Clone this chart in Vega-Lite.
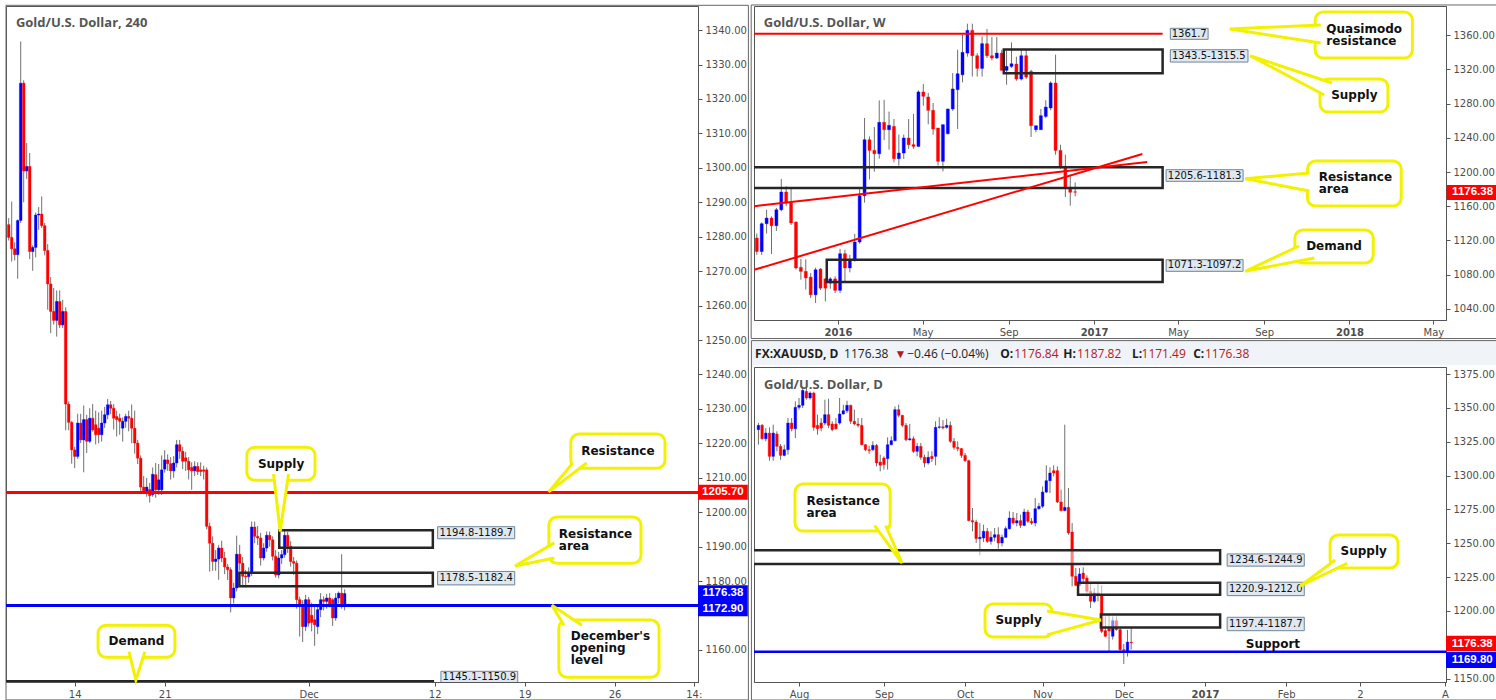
{
"$schema": "https://vega.github.io/schema/vega-lite/v6.json",
"padding": {"left": 4, "top": 3, "right": 0, "bottom": 0},
"autosize": {"type": "pad"},
"background": "white",
"bounds": "flush",
"spacing": 56,
"config": {
  "view": {"stroke": "#555555", "strokeWidth": 1},
  "scale": {"continuousPadding": 0},
  "axis": {"grid": false, "domainColor": "#555555", "tickColor": "#555555", "labelColor": "#4d4d4d", "labelFont": "DejaVu Sans", "labelFontSize": 10, "tickSize": 4, "labelPadding": 3, "labelFlush": false, "labelOverlap": false},
  "text": {"font": "DejaVu Sans"}
},
"datasets": {
"h4": [
{"i":-22,"o":1283.5,"h":1285.4,"l":1278.9,"c":1279.8},
{"i":-21,"o":1279.8,"h":1290.2,"l":1272.8,"c":1276.5},
{"i":-20,"o":1276.5,"h":1278.4,"l":1273.1,"c":1274.8},
{"i":-19,"o":1274.8,"h":1285,"l":1267.8,"c":1284.7},
{"i":-18,"o":1284.7,"h":1336.7,"l":1284,"c":1324.6},
{"i":-17,"o":1324.6,"h":1325.4,"l":1290,"c":1299.1},
{"i":-16,"o":1299.1,"h":1307.2,"l":1296.8,"c":1300.4},
{"i":-15,"o":1300.4,"h":1304.3,"l":1273.5,"c":1275.7},
{"i":-14,"o":1275.7,"h":1277.5,"l":1270.1,"c":1276.9},
{"i":-13,"o":1276.9,"h":1287,"l":1274,"c":1286.3},
{"i":-12,"o":1286.3,"h":1288.6,"l":1282,"c":1286.6},
{"i":-11,"o":1286.6,"h":1291.7,"l":1282.5,"c":1283.2},
{"i":-10,"o":1283.2,"h":1284,"l":1274.6,"c":1276},
{"i":-9,"o":1276,"h":1277.9,"l":1258.8,"c":1266.3},
{"i":-8,"o":1266.3,"h":1268.3,"l":1252,"c":1258.3},
{"i":-7,"o":1258.3,"h":1265.1,"l":1254.5,"c":1255.7},
{"i":-6,"o":1255.7,"h":1264.4,"l":1251,"c":1261.2},
{"i":-5,"o":1261.2,"h":1264.4,"l":1253.5,"c":1254.4},
{"i":-4,"o":1254.4,"h":1261.7,"l":1253.5,"c":1258.3},
{"i":-3,"o":1258.3,"h":1259.5,"l":1223.8,"c":1231.4},
{"i":-2,"o":1231.4,"h":1232.2,"l":1223.8,"c":1226.1},
{"i":-1,"o":1226.1,"h":1226.5,"l":1214.1,"c":1218.1},
{"i":0,"o":1218.1,"h":1219,"l":1212.8,"c":1216.2},
{"i":1,"o":1216.2,"h":1228.6,"l":1215.5,"c":1225.9},
{"i":2,"o":1225.9,"h":1228.6,"l":1220.1,"c":1221},
{"i":3,"o":1221,"h":1231,"l":1211.6,"c":1226.9},
{"i":4,"o":1226.9,"h":1228.3,"l":1217.2,"c":1220.6},
{"i":5,"o":1220.6,"h":1230.2,"l":1220.1,"c":1227.3},
{"i":6,"o":1227.3,"h":1231.4,"l":1223.4,"c":1223.9},
{"i":7,"o":1225.4,"h":1229.5,"l":1219.7,"c":1222.5},
{"i":8,"o":1224.4,"h":1229,"l":1220,"c":1222.5},
{"i":9,"o":1222.5,"h":1229.5,"l":1220.5,"c":1225.9},
{"i":10,"o":1225.9,"h":1230.6,"l":1224.5,"c":1228.3},
{"i":11,"o":1228.3,"h":1232.9,"l":1227,"c":1231.2},
{"i":12,"o":1231.2,"h":1232.3,"l":1228.5,"c":1230.2},
{"i":13,"o":1230.2,"h":1231.4,"l":1224,"c":1227.3},
{"i":14,"o":1227.8,"h":1229.5,"l":1222,"c":1226.9},
{"i":15,"o":1227.3,"h":1228.6,"l":1222.5,"c":1226.4},
{"i":16,"o":1224.4,"h":1227.5,"l":1220.5,"c":1226.4},
{"i":17,"o":1226.4,"h":1228.6,"l":1224.5,"c":1227.8},
{"i":18,"o":1227.8,"h":1229.5,"l":1223.5,"c":1227.3},
{"i":19,"o":1227.3,"h":1231.3,"l":1220,"c":1224.4},
{"i":20,"o":1224.4,"h":1229.5,"l":1217,"c":1220.1},
{"i":21,"o":1220.1,"h":1221,"l":1214,"c":1215.7},
{"i":22,"o":1215.7,"h":1216.5,"l":1206,"c":1207.3},
{"i":23,"o":1207.3,"h":1210.5,"l":1205.5,"c":1206.2},
{"i":24,"o":1206,"h":1210,"l":1204.5,"c":1207.3},
{"i":25,"o":1206.6,"h":1208.5,"l":1202.8,"c":1204.8},
{"i":26,"o":1205.1,"h":1213,"l":1204.5,"c":1211},
{"i":27,"o":1210.9,"h":1214.3,"l":1204.2,"c":1206.5},
{"i":28,"o":1206.5,"h":1214,"l":1205,"c":1209.4},
{"i":29,"o":1206.5,"h":1216.5,"l":1205,"c":1212.3},
{"i":30,"o":1212.5,"h":1218,"l":1211.5,"c":1215.2},
{"i":31,"o":1215.2,"h":1216.8,"l":1212,"c":1214.1},
{"i":32,"o":1214.1,"h":1216,"l":1209.5,"c":1212},
{"i":33,"o":1212,"h":1216.3,"l":1210,"c":1214.3},
{"i":34,"o":1214.3,"h":1221,"l":1213,"c":1219.6},
{"i":35,"o":1219.6,"h":1221,"l":1215.5,"c":1217.7},
{"i":36,"o":1217.7,"h":1219,"l":1212.5,"c":1214.8},
{"i":37,"o":1215.8,"h":1217.5,"l":1212,"c":1214.8},
{"i":38,"o":1214.8,"h":1216,"l":1209.5,"c":1212.3},
{"i":39,"o":1213,"h":1214.5,"l":1206.5,"c":1212},
{"i":40,"o":1212,"h":1214.8,"l":1210.5,"c":1213.3},
{"i":41,"o":1213.3,"h":1214.5,"l":1210.8,"c":1211.8},
{"i":42,"o":1212.3,"h":1214.5,"l":1210.5,"c":1211.8},
{"i":43,"o":1212.3,"h":1213.5,"l":1209.5,"c":1211.9},
{"i":44,"o":1212.3,"h":1213,"l":1195,"c":1195.9},
{"i":45,"o":1195.9,"h":1197,"l":1182.8,"c":1191},
{"i":46,"o":1191,"h":1193,"l":1183,"c":1185.7},
{"i":47,"o":1185.7,"h":1189,"l":1183,"c":1186.4},
{"i":48,"o":1186.4,"h":1190.5,"l":1180.4,"c":1189.6},
{"i":49,"o":1189.6,"h":1191.7,"l":1185.5,"c":1186.7},
{"i":50,"o":1186.7,"h":1188.5,"l":1182,"c":1184.1},
{"i":51,"o":1184.1,"h":1185,"l":1180.3,"c":1183.3},
{"i":52,"o":1183.3,"h":1184,"l":1170.9,"c":1175.1},
{"i":53,"o":1175.1,"h":1179.5,"l":1173.5,"c":1178},
{"i":54,"o":1178,"h":1193.2,"l":1177,"c":1187.8},
{"i":55,"o":1187.8,"h":1190.5,"l":1183,"c":1185.2},
{"i":56,"o":1185.2,"h":1187,"l":1178.2,"c":1181.4},
{"i":57,"o":1181.4,"h":1183.2,"l":1178.2,"c":1181.2},
{"i":58,"o":1181.3,"h":1184,"l":1179.5,"c":1182.3},
{"i":59,"o":1182.3,"h":1197.3,"l":1181.5,"c":1195.7},
{"i":60,"o":1195.7,"h":1197.3,"l":1191,"c":1193},
{"i":61,"o":1193,"h":1196,"l":1190.5,"c":1192.5},
{"i":62,"o":1192.5,"h":1194,"l":1184.5,"c":1186.7},
{"i":63,"o":1186.7,"h":1191,"l":1186,"c":1189.6},
{"i":64,"o":1189.6,"h":1194.4,"l":1188.5,"c":1193.3},
{"i":65,"o":1193.3,"h":1194.4,"l":1190,"c":1192},
{"i":66,"o":1192,"h":1193,"l":1186,"c":1187.2},
{"i":67,"o":1187.2,"h":1189,"l":1181,"c":1181.8},
{"i":68,"o":1181.8,"h":1188.5,"l":1180.8,"c":1186.7},
{"i":69,"o":1186.7,"h":1189,"l":1185,"c":1187.7},
{"i":70,"o":1187.7,"h":1195,"l":1186.8,"c":1193.3},
{"i":71,"o":1193.3,"h":1194.3,"l":1188.2,"c":1190.1},
{"i":72,"o":1190.1,"h":1191.6,"l":1184.2,"c":1185.7},
{"i":73,"o":1185.7,"h":1187,"l":1181.8,"c":1185.2},
{"i":74,"o":1185.2,"h":1186,"l":1172,"c":1174.6},
{"i":75,"o":1174.6,"h":1175.5,"l":1163.9,"c":1173.1},
{"i":76,"o":1173.1,"h":1174.5,"l":1162.3,"c":1166.8},
{"i":77,"o":1166.8,"h":1176,"l":1165.5,"c":1174.6},
{"i":78,"o":1174.6,"h":1175.4,"l":1166.8,"c":1167.8},
{"i":79,"o":1170.1,"h":1173.7,"l":1165.4,"c":1168},
{"i":80,"o":1168.8,"h":1172.6,"l":1161.2,"c":1167.3},
{"i":81,"o":1166.8,"h":1172.5,"l":1164.6,"c":1171.7},
{"i":82,"o":1171.7,"h":1176.5,"l":1169.5,"c":1174.6},
{"i":83,"o":1174.6,"h":1175.6,"l":1171.5,"c":1174.1},
{"i":84,"o":1174.1,"h":1176.3,"l":1172,"c":1175.1},
{"i":85,"o":1175.1,"h":1176.5,"l":1172.4,"c":1173.1},
{"i":86,"o":1174.6,"h":1175,"l":1167,"c":1169.3},
{"i":87,"o":1169.3,"h":1176.5,"l":1168.5,"c":1175.1},
{"i":88,"o":1175.1,"h":1177,"l":1173.5,"c":1176.5},
{"i":89,"o":1176.5,"h":1187.8,"l":1172,"c":1172.6},
{"i":90,"o":1172.6,"h":1177.6,"l":1171.5,"c":1176.38}
],
"wk": [
{"d":"2015-09-07","o":1122.7,"h":1128,"l":1103,"c":1107},
{"d":"2015-09-14","o":1107,"h":1141,"l":1103,"c":1139.5},
{"d":"2015-09-21","o":1139.5,"h":1155.8,"l":1128,"c":1146.1},
{"d":"2015-09-28","o":1146.1,"h":1148,"l":1104,"c":1137.2},
{"d":"2015-10-05","o":1137.2,"h":1158,"l":1131,"c":1155.8},
{"d":"2015-10-12","o":1155.8,"h":1191.8,"l":1154,"c":1176.6},
{"d":"2015-10-19","o":1176.6,"h":1183.2,"l":1160,"c":1163.7},
{"d":"2015-10-26","o":1163.7,"h":1182.4,"l":1138,"c":1140.3},
{"d":"2015-11-02","o":1141.4,"h":1142.2,"l":1085.8,"c":1087.7},
{"d":"2015-11-09","o":1088.4,"h":1098.2,"l":1074,"c":1083.7},
{"d":"2015-11-16","o":1083.7,"h":1097.8,"l":1062.4,"c":1076},
{"d":"2015-11-23","o":1077,"h":1081.7,"l":1052.4,"c":1056.3},
{"d":"2015-11-30","o":1056.3,"h":1088,"l":1046.7,"c":1085.6},
{"d":"2015-12-07","o":1086.4,"h":1087.6,"l":1062,"c":1064.1},
{"d":"2015-12-14","o":1074.9,"h":1076,"l":1048.6,"c":1064.1},
{"d":"2015-12-21","o":1070,"h":1077,"l":1063.4,"c":1074.9},
{"d":"2015-12-28","o":1074.9,"h":1078,"l":1058.4,"c":1061.5},
{"d":"2016-01-04","o":1061.5,"h":1110,"l":1058.4,"c":1104.4},
{"d":"2016-01-11","o":1104.4,"h":1109,"l":1072,"c":1087.7},
{"d":"2016-01-18","o":1087.7,"h":1103,"l":1082.6,"c":1097.4},
{"d":"2016-01-25","o":1097.4,"h":1127.6,"l":1095,"c":1118.1},
{"d":"2016-02-01","o":1118.1,"h":1181,"l":1116,"c":1172.3},
{"d":"2016-02-08","o":1172.3,"h":1263.2,"l":1164.1,"c":1237.8},
{"d":"2016-02-15","o":1237.8,"h":1241.7,"l":1191.3,"c":1225.3},
{"d":"2016-02-22","o":1225.3,"h":1252.6,"l":1200.4,"c":1221.4},
{"d":"2016-02-29","o":1221.4,"h":1283.8,"l":1215.6,"c":1258.1},
{"d":"2016-03-07","o":1258.1,"h":1284.5,"l":1237.3,"c":1249.5},
{"d":"2016-03-14","o":1249.5,"h":1270.7,"l":1226.1,"c":1254.6},
{"d":"2016-03-21","o":1253.4,"h":1262,"l":1211.3,"c":1215.6},
{"d":"2016-03-28","o":1215.6,"h":1243.8,"l":1207.5,"c":1222.2},
{"d":"2016-04-04","o":1222.2,"h":1243.8,"l":1215.2,"c":1239.8},
{"d":"2016-04-11","o":1239.8,"h":1262,"l":1227.2,"c":1232},
{"d":"2016-04-18","o":1232,"h":1268,"l":1227.2,"c":1230},
{"d":"2016-04-25","o":1230,"h":1295.7,"l":1229.2,"c":1293.7},
{"d":"2016-05-02","o":1293.7,"h":1302.9,"l":1277.5,"c":1288.6},
{"d":"2016-05-09","o":1287.8,"h":1292.5,"l":1255.8,"c":1272.2},
{"d":"2016-05-16","o":1272.2,"h":1280.8,"l":1243.8,"c":1250.3},
{"d":"2016-05-23","o":1251.5,"h":1251.5,"l":1207.5,"c":1212.5},
{"d":"2016-05-30","o":1212.5,"h":1255.4,"l":1200.8,"c":1255.4},
{"d":"2016-06-06","o":1244.9,"h":1274,"l":1243.8,"c":1273.8},
{"d":"2016-06-13","o":1273.8,"h":1315.8,"l":1271.5,"c":1297.2},
{"d":"2016-06-20","o":1296.4,"h":1343.1,"l":1250.3,"c":1315},
{"d":"2016-06-27","o":1313.8,"h":1360.7,"l":1305,"c":1340},
{"d":"2016-07-04","o":1339.2,"h":1373.6,"l":1335,"c":1365.8},
{"d":"2016-07-11","o":1365.8,"h":1373.6,"l":1311.7,"c":1336.1},
{"d":"2016-07-18","o":1336.1,"h":1339,"l":1311.7,"c":1321.3},
{"d":"2016-07-25","o":1321.3,"h":1358.8,"l":1311.7,"c":1350.2},
{"d":"2016-08-01","o":1350.2,"h":1367.4,"l":1333.4,"c":1336.1},
{"d":"2016-08-08","o":1336.1,"h":1358,"l":1330.6,"c":1333.4},
{"d":"2016-08-15","o":1333.4,"h":1358,"l":1332.3,"c":1339.2},
{"d":"2016-08-22","o":1339.2,"h":1343,"l":1319,"c":1319},
{"d":"2016-08-29","o":1319,"h":1342,"l":1302.2,"c":1323.6},
{"d":"2016-09-05","o":1323.6,"h":1351.7,"l":1321.7,"c":1326.7},
{"d":"2016-09-12","o":1326.3,"h":1335,"l":1306.8,"c":1308.8},
{"d":"2016-09-19","o":1308.8,"h":1343,"l":1307.2,"c":1336.1},
{"d":"2016-09-26","o":1336.1,"h":1343,"l":1308.8,"c":1311.1},
{"d":"2016-10-03","o":1317.7,"h":1319.7,"l":1241,"c":1254.2},
{"d":"2016-10-10","o":1249.5,"h":1254.2,"l":1246.4,"c":1254.2},
{"d":"2016-10-17","o":1249.5,"h":1273.8,"l":1249.5,"c":1265.9},
{"d":"2016-10-24","o":1265.1,"h":1284,"l":1263.1,"c":1276},
{"d":"2016-10-31","o":1274.9,"h":1306.2,"l":1272.2,"c":1304.2},
{"d":"2016-11-07","o":1304.2,"h":1337.3,"l":1220.2,"c":1225.3},
{"d":"2016-11-14","o":1225.3,"h":1231.9,"l":1203.5,"c":1205.8},
{"d":"2016-11-21","o":1206.6,"h":1220.2,"l":1170.8,"c":1182.1},
{"d":"2016-11-28","o":1182.1,"h":1196.9,"l":1160.6,"c":1176.3},
{"d":"2016-12-05","o":1176.84,"h":1187.82,"l":1171.49,"c":1176.38}
],
"dy": [
{"i":-11,"o":1333.9,"h":1338.9,"l":1322.8,"c":1337.1},
{"i":-10,"o":1337.1,"h":1338.1,"l":1326.5,"c":1327.2},
{"i":-9,"o":1327.2,"h":1335.1,"l":1325.3,"c":1331.4},
{"i":-8,"o":1331.4,"h":1335.6,"l":1311,"c":1314.2},
{"i":-7,"o":1314.2,"h":1337.6,"l":1311,"c":1331.4},
{"i":-6,"o":1330.7,"h":1332.7,"l":1317.9,"c":1321.6},
{"i":-5,"o":1321.6,"h":1323.3,"l":1311.7,"c":1314.9},
{"i":-4,"o":1314.9,"h":1322.8,"l":1314.2,"c":1319.1},
{"i":-3,"o":1319.1,"h":1342.5,"l":1315.4,"c":1338.8},
{"i":-2,"o":1338.8,"h":1342.5,"l":1332.7,"c":1334.6},
{"i":-1,"o":1334.6,"h":1354.8,"l":1327.7,"c":1350.4},
{"i":0,"o":1350.4,"h":1357.3,"l":1348.7,"c":1351.9},
{"i":1,"o":1351.9,"h":1365.9,"l":1349.9,"c":1362.9},
{"i":2,"o":1362.2,"h":1364.7,"l":1356.1,"c":1357.3},
{"i":3,"o":1357.3,"h":1362.2,"l":1356.1,"c":1361},
{"i":4,"o":1361,"h":1362,"l":1333.2,"c":1335.6},
{"i":5,"o":1337.1,"h":1345,"l":1330.2,"c":1334.6},
{"i":6,"o":1338.8,"h":1342.5,"l":1332.7,"c":1335.1},
{"i":7,"o":1338.8,"h":1356.1,"l":1337.1,"c":1345},
{"i":8,"o":1345,"h":1356.8,"l":1335.1,"c":1337.1},
{"i":9,"o":1338.1,"h":1340.1,"l":1332.7,"c":1333.9},
{"i":10,"o":1338.1,"h":1342.5,"l":1333.9,"c":1334.6},
{"i":11,"o":1338.8,"h":1357.3,"l":1337.6,"c":1345.5},
{"i":12,"o":1345.5,"h":1352.4,"l":1345,"c":1347.9},
{"i":13,"o":1347.9,"h":1355.3,"l":1346.2,"c":1351.9},
{"i":14,"o":1351.9,"h":1352.4,"l":1338.1,"c":1340.1},
{"i":15,"o":1340.1,"h":1348.7,"l":1337.1,"c":1338.1},
{"i":16,"o":1338.1,"h":1342.5,"l":1335.6,"c":1337.1},
{"i":17,"o":1337.1,"h":1342.5,"l":1322.3,"c":1322.8},
{"i":18,"o":1322.8,"h":1323.3,"l":1317.9,"c":1319.1},
{"i":19,"o":1319.1,"h":1322,"l":1316,"c":1318.5},
{"i":20,"o":1319.1,"h":1325.3,"l":1317.9,"c":1322.3},
{"i":21,"o":1322.3,"h":1323.3,"l":1306.8,"c":1309.3},
{"i":22,"o":1310,"h":1315.4,"l":1303.1,"c":1307.6},
{"i":23,"o":1313,"h":1314.2,"l":1304.4,"c":1308.1},
{"i":24,"o":1312.5,"h":1328.2,"l":1304.4,"c":1322.8},
{"i":25,"o":1322.8,"h":1329,"l":1322.3,"c":1325.8},
{"i":26,"o":1325.8,"h":1351.1,"l":1325.3,"c":1348.7},
{"i":27,"o":1348.7,"h":1352.4,"l":1343,"c":1344.5},
{"i":28,"o":1344.5,"h":1344.9,"l":1335.6,"c":1337.1},
{"i":29,"o":1337.1,"h":1338.8,"l":1325.3,"c":1326.5},
{"i":30,"o":1326.4,"h":1338.1,"l":1325.8,"c":1327.2},
{"i":31,"o":1327.2,"h":1329,"l":1316.7,"c":1317.9},
{"i":32,"o":1317.9,"h":1324.1,"l":1314.2,"c":1321.6},
{"i":33,"o":1321.6,"h":1324.1,"l":1311.7,"c":1313.5},
{"i":34,"o":1313.5,"h":1315.4,"l":1306.1,"c":1309.3},
{"i":35,"o":1309.3,"h":1317.9,"l":1308.1,"c":1313.5},
{"i":36,"o":1314.2,"h":1317.9,"l":1310,"c":1312.5},
{"i":37,"o":1314.2,"h":1340.1,"l":1307.6,"c":1335.6},
{"i":38,"o":1335.6,"h":1343,"l":1334.6,"c":1336},
{"i":39,"o":1336,"h":1341,"l":1334,"c":1335.2},
{"i":40,"o":1335.6,"h":1342,"l":1334.6,"c":1337.1},
{"i":41,"o":1337.1,"h":1340,"l":1324.1,"c":1325.3},
{"i":42,"o":1325.3,"h":1327.7,"l":1319.1,"c":1320.8},
{"i":43,"o":1320.8,"h":1325.3,"l":1317.9,"c":1319.9},
{"i":44,"o":1319.9,"h":1320.4,"l":1313,"c":1314.9},
{"i":45,"o":1314.9,"h":1316.7,"l":1310,"c":1311},
{"i":46,"o":1311,"h":1311.7,"l":1266.2,"c":1266.7},
{"i":47,"o":1266.7,"h":1276,"l":1258.8,"c":1265.7},
{"i":48,"o":1265.7,"h":1267.4,"l":1250.2,"c":1253.4},
{"i":49,"o":1253.4,"h":1264.9,"l":1241.1,"c":1254.4},
{"i":50,"o":1253.9,"h":1263.7,"l":1250.9,"c":1258.8},
{"i":51,"o":1258.8,"h":1261.3,"l":1250.2,"c":1251.4},
{"i":52,"o":1251.4,"h":1258.8,"l":1249,"c":1254.4},
{"i":53,"o":1254.4,"h":1261.3,"l":1251.4,"c":1256.3},
{"i":54,"o":1256.3,"h":1261.8,"l":1246,"c":1250.2},
{"i":55,"o":1250.2,"h":1256.3,"l":1247.7,"c":1254.4},
{"i":56,"o":1254.4,"h":1262.5,"l":1253.9,"c":1260.8},
{"i":57,"o":1260.8,"h":1273.6,"l":1260.1,"c":1268.6},
{"i":58,"o":1268.6,"h":1273.1,"l":1263.7,"c":1265},
{"i":59,"o":1265,"h":1272.4,"l":1262.5,"c":1266.7},
{"i":60,"o":1266.7,"h":1271.1,"l":1261.3,"c":1263.2},
{"i":61,"o":1263.2,"h":1275.5,"l":1262.5,"c":1273.1},
{"i":62,"o":1273.1,"h":1274.8,"l":1265,"c":1266.2},
{"i":63,"o":1266.2,"h":1268.6,"l":1263.7,"c":1265},
{"i":64,"o":1265,"h":1283.4,"l":1262.5,"c":1275.5},
{"i":65,"o":1275.5,"h":1279.7,"l":1274.8,"c":1277.3},
{"i":66,"o":1277.3,"h":1292,"l":1276,"c":1287.8},
{"i":67,"o":1287.8,"h":1307.6,"l":1287.1,"c":1296.2},
{"i":68,"o":1296.2,"h":1306.1,"l":1287.1,"c":1301.9},
{"i":69,"o":1303.6,"h":1307.6,"l":1299.4,"c":1301.9},
{"i":70,"o":1303.6,"h":1306.8,"l":1279.7,"c":1280.5},
{"i":71,"o":1280.5,"h":1289.6,"l":1273.6,"c":1274.1},
{"i":72,"o":1274.1,"h":1337.6,"l":1273.6,"c":1276.5},
{"i":73,"o":1276.5,"h":1290.8,"l":1256.3,"c":1257.6},
{"i":74,"o":1258.3,"h":1265,"l":1218.2,"c":1225.6},
{"i":75,"o":1225.6,"h":1231.7,"l":1218.2,"c":1218.9},
{"i":76,"o":1218.9,"h":1231.7,"l":1218.2,"c":1227.3},
{"i":77,"o":1228,"h":1232.2,"l":1220.6,"c":1223.8},
{"i":78,"o":1224.3,"h":1226.3,"l":1210.8,"c":1214.5},
{"i":79,"o":1214.5,"h":1219.9,"l":1202.2,"c":1207.1},
{"i":80,"o":1207.1,"h":1217,"l":1205.9,"c":1213.3},
{"i":81,"o":1213.3,"h":1219.9,"l":1207.1,"c":1212},
{"i":82,"o":1212,"h":1218.9,"l":1183.7,"c":1184.9},
{"i":83,"o":1185.4,"h":1196,"l":1180.5,"c":1181.3},
{"i":84,"o":1187,"h":1197.2,"l":1170.2,"c":1185.2},
{"i":85,"o":1181.3,"h":1196,"l":1178.8,"c":1192.8},
{"i":86,"o":1192.8,"h":1196,"l":1185.4,"c":1186.2},
{"i":87,"o":1186.2,"h":1187.4,"l":1170.2,"c":1171.4},
{"i":88,"o":1171.4,"h":1175.6,"l":1160.8,"c":1170.7},
{"i":89,"o":1170.2,"h":1186,"l":1166.3,"c":1177},
{"i":90,"o":1176.84,"h":1187.82,"l":1171.49,"c":1176.38}
]
},
"hconcat": [
{
  "width": 692, "height": 676,
  "layer": [
    {"data": {"values": [{"x": -22.9, "x2": 224.6, "y": 1145.5, "y2": 1347.2}]},
     "mark": {"type": "rect", "fill": "white", "fillOpacity": 0, "stroke": "#666666", "strokeWidth": 1},
     "encoding": {"x": {"field": "x", "type": "quantitative", "title": null, "scale": {"domain": [-22.9, 207.8], "nice": false, "zero": false},
                        "axis": {"values": [0, 30, 78, 120, 150, 180, 206.4], "tickCount": 100, "labelOverlap": false, "labelExpr": "datum.value == 0 ? '14' : datum.value == 30 ? '21' : datum.value == 78 ? 'Dec' : datum.value == 120 ? '12' : datum.value == 150 ? '19' : datum.value == 180 ? '26' : '14:'"}},
                  "x2": {"field": "x2"},
                  "y": {"field": "y", "type": "quantitative", "title": null, "scale": {"domain": [1150.7, 1347], "nice": false, "zero": false},
                        "axis": {"orient": "right", "tickCount": 100, "labelOverlap": false, "values": [1160,1180,1190,1200,1210,1220,1230,1240,1250,1260,1270,1280,1290,1300,1310,1320,1330,1340], "format": ".2f"}},
                  "y2": {"field": "y2"}}},
    {"data": {"name": "h4"}, "mark": {"type": "rule", "color": "#707070", "strokeWidth": 1},
     "encoding": {
       "x": {"field": "i", "type": "quantitative", "title": null, "scale": {"domain": [-22.9, 207.8], "nice": false, "zero": false}},
       "y": {"field": "l", "type": "quantitative", "title": null, "scale": {"domain": [1150.7, 1347], "nice": false, "zero": false}},
       "y2": {"field": "h"}}},
    {"data": {"name": "h4"}, "mark": {"type": "bar", "width": 2.6, "strokeWidth": 0.4},
     "encoding": {
       "x": {"field": "i", "type": "quantitative", "title": null, "scale": {"domain": [-22.9, 207.8], "nice": false, "zero": false}},
       "y": {"field": "o", "type": "quantitative", "title": null, "scale": {"domain": [1150.7, 1347], "nice": false, "zero": false}},
       "y2": {"field": "c"},
       "color": {"condition": {"test": "datum.c >= datum.o", "value": "#0000ff"}, "value": "#ff0000"},
       "stroke": {"condition": {"test": "datum.c >= datum.o", "value": "#0000ff"}, "value": "#ff0000"}}},
    {"data": {"values": [{"y": 1205.7}]}, "mark": {"type": "rule", "color": "#ff0000", "strokeWidth": 3},
     "encoding": {"y": {"field": "y", "type": "quantitative", "title": null, "scale": {"domain": [1150.7, 1347], "nice": false, "zero": false}}}},
    {"data": {"values": [{"y": 1172.9}]}, "mark": {"type": "rule", "color": "#0000ff", "strokeWidth": 3},
     "encoding": {"y": {"field": "y", "type": "quantitative", "title": null, "scale": {"domain": [1150.7, 1347], "nice": false, "zero": false}}}},
    {"data": {"values": [
        {"x": 68.2, "x2": 119.4, "y": 1189.7, "y2": 1194.8},
        {"x": 54.9, "x2": 119.4, "y": 1178.5, "y2": 1182.4},
        {"x": -26, "x2": 119.4, "y": 1145.1, "y2": 1150.9}]},
     "mark": {"type": "rect", "fill": "white", "fillOpacity": 0, "stroke": "#262626", "strokeWidth": 2.5, "clip": true},
     "encoding": {"x": {"field": "x", "type": "quantitative", "title": null, "scale": {"domain": [-22.9, 207.8], "nice": false, "zero": false}}, "x2": {"field": "x2"},
                  "y": {"field": "y", "type": "quantitative", "title": null, "scale": {"domain": [1150.7, 1347], "nice": false, "zero": false}}, "y2": {"field": "y2"}}},
    {"data": {"values": [
        {"x": 121, "x2": 146.7, "y": 1195.8, "y2": 1192.3},
        {"x": 121, "x2": 146.7, "y": 1182.8, "y2": 1178.9},
        {"x": 122.1, "x2": 147.7, "y": 1153.8, "y2": 1149}]},
     "mark": {"type": "rect", "fill": "#dfe8f0", "stroke": "#6d8599", "strokeWidth": 1, "clip": true},
     "encoding": {"x": {"field": "x", "type": "quantitative", "title": null, "scale": {"domain": [-22.9, 207.8], "nice": false, "zero": false}}, "x2": {"field": "x2"},
                  "y": {"field": "y", "type": "quantitative", "title": null, "scale": {"domain": [1150.7, 1347], "nice": false, "zero": false}}, "y2": {"field": "y2"}}},
    {"data": {"values": [
        {"x": 133.85, "y": 1194.05, "t": "1194.8-1189.7"},
        {"x": 133.85, "y": 1180.85, "t": "1178.5-1182.4"},
        {"x": 134.9, "y": 1152.2, "t": "1145.1-1150.9"}]},
     "mark": {"type": "text", "font": "DejaVu Sans", "fontSize": 10, "color": "#111111", "align": "center", "baseline": "middle", "clip": true},
     "encoding": {"x": {"field": "x", "type": "quantitative", "title": null, "scale": {"domain": [-22.9, 207.8], "nice": false, "zero": false}},
                  "y": {"field": "y", "type": "quantitative", "title": null, "scale": {"domain": [1150.7, 1347], "nice": false, "zero": false}}, "text": {"field": "t"}}},
    {"data": {"values": [
        {"x": 57.4, "x2": 80.1, "y": 1218.9, "y2": 1209.3},
        {"x": 165.4, "x2": 196.8, "y": 1222.7, "y2": 1212.8},
        {"x": 158.1, "x2": 188.8, "y": 1198.6, "y2": 1185.2},
        {"x": 161.4, "x2": 194.8, "y": 1168.7, "y2": 1152.1},
        {"x": 7.8, "x2": 33.4, "y": 1167.2, "y2": 1157.9}]},
     "mark": {"type": "rect", "fill": "white", "stroke": "#f2f200", "strokeWidth": 3, "cornerRadius": 8},
     "encoding": {"x": {"field": "x", "type": "quantitative", "title": null, "scale": {"domain": [-22.9, 207.8], "nice": false, "zero": false}}, "x2": {"field": "x2"},
                  "y": {"field": "y", "type": "quantitative", "title": null, "scale": {"domain": [1150.7, 1347], "nice": false, "zero": false}}, "y2": {"field": "y2"}}},
    {"data": {"values": [
        {"g": "a", "k": 1, "x": 66.3, "y": 1211.1}, {"g": "a", "k": 2, "x": 68.5, "y": 1194.4}, {"g": "a", "k": 3, "x": 71.3, "y": 1211.1},
        {"g": "b", "k": 1, "x": 166.1, "y": 1214.3}, {"g": "b", "k": 2, "x": 158.0, "y": 1205.9}, {"g": "b", "k": 3, "x": 170.7, "y": 1214.3},
        {"g": "c", "k": 1, "x": 159.9, "y": 1191.1}, {"g": "c", "k": 2, "x": 146.8, "y": 1184.4}, {"g": "c", "k": 3, "x": 159.9, "y": 1186.7},
        {"g": "d", "k": 1, "x": 163.1, "y": 1167.2}, {"g": "d", "k": 2, "x": 159.1, "y": 1173.0}, {"g": "d", "k": 3, "x": 169.1, "y": 1167.2},
        {"g": "e", "k": 1, "x": 18.1, "y": 1159.5}, {"g": "e", "k": 2, "x": 20.4, "y": 1151.3}, {"g": "e", "k": 3, "x": 23.4, "y": 1159.5}]},
     "mark": {"type": "line", "fill": "white", "stroke": "#f2f200", "strokeWidth": 3, "strokeJoin": "miter"},
     "encoding": {"x": {"field": "x", "type": "quantitative", "title": null, "scale": {"domain": [-22.9, 207.8], "nice": false, "zero": false}},
                  "y": {"field": "y", "type": "quantitative", "title": null, "scale": {"domain": [1150.7, 1347], "nice": false, "zero": false}}, "order": {"field": "k"}, "detail": {"field": "g"}}},
    {"data": {"values": [
        {"x": 68.8, "y": 1214.1, "t": "Supply"},
        {"x": 181.1, "y": 1217.8, "t": "Resistance"},
        {"x": 20.6, "y": 1162.7, "t": "Demand"}]},
     "mark": {"type": "text", "font": "DejaVu Sans", "fontSize": 12, "fontWeight": "bold", "color": "#111111", "align": "center", "baseline": "middle"},
     "encoding": {"x": {"field": "x", "type": "quantitative", "title": null, "scale": {"domain": [-22.9, 207.8], "nice": false, "zero": false}},
                  "y": {"field": "y", "type": "quantitative", "title": null, "scale": {"domain": [1150.7, 1347], "nice": false, "zero": false}}, "text": {"field": "t"}}},
    {"data": {"values": [
        {"x": 161.4, "y": 1193.7, "t": "Resistance"},
        {"x": 161.4, "y": 1190.2, "t": "area"},
        {"x": 165.4, "y": 1164.0, "t": "December's"},
        {"x": 165.4, "y": 1160.6, "t": "opening"},
        {"x": 165.4, "y": 1157.2, "t": "level"}]},
     "mark": {"type": "text", "font": "DejaVu Sans", "fontSize": 12, "fontWeight": "bold", "color": "#111111", "align": "left", "baseline": "middle"},
     "encoding": {"x": {"field": "x", "type": "quantitative", "title": null, "scale": {"domain": [-22.9, 207.8], "nice": false, "zero": false}},
                  "y": {"field": "y", "type": "quantitative", "title": null, "scale": {"domain": [1150.7, 1347], "nice": false, "zero": false}}, "text": {"field": "t"}}},
    {"data": {"values": [{"x": 207.8, "x2": 224.4, "y": 1203.6, "y2": 1208.0}]},
     "mark": {"type": "rect", "fill": "#ff0000"},
     "encoding": {"x": {"field": "x", "type": "quantitative", "title": null, "scale": {"domain": [-22.9, 207.8], "nice": false, "zero": false}}, "x2": {"field": "x2"},
                  "y": {"field": "y", "type": "quantitative", "title": null, "scale": {"domain": [1150.7, 1347], "nice": false, "zero": false}}, "y2": {"field": "y2"}}},
    {"data": {"values": [{"x": 207.8, "x2": 224.4, "y": 1169.8, "y2": 1178.8}]},
     "mark": {"type": "rect", "fill": "#0000ff"},
     "encoding": {"x": {"field": "x", "type": "quantitative", "title": null, "scale": {"domain": [-22.9, 207.8], "nice": false, "zero": false}}, "x2": {"field": "x2"},
                  "y": {"field": "y", "type": "quantitative", "title": null, "scale": {"domain": [1150.7, 1347], "nice": false, "zero": false}}, "y2": {"field": "y2"}}},
    {"data": {"values": [
        {"x": 216.1, "y": 1205.8, "t": "1205.70"},
        {"x": 216.1, "y": 1176.5, "t": "1176.38"},
        {"x": 216.1, "y": 1172.0, "t": "1172.90"}]},
     "mark": {"type": "text", "font": "Liberation Sans", "fontSize": 11.5, "fontWeight": "bold", "color": "white", "align": "center", "baseline": "middle"},
     "encoding": {"x": {"field": "x", "type": "quantitative", "title": null, "scale": {"domain": [-22.9, 207.8], "nice": false, "zero": false}},
                  "y": {"field": "y", "type": "quantitative", "title": null, "scale": {"domain": [1150.7, 1347], "nice": false, "zero": false}}, "text": {"field": "t"}}},
    {"data": {"values": [{"x": -19.6, "y": 1342.0, "t": "Gold/U.S. Dollar, 240"}]},
     "mark": {"type": "text", "font": "Open Sans", "fontSize": 13, "fontWeight": "bold", "color": "#555555", "align": "left", "baseline": "middle"},
     "encoding": {"x": {"field": "x", "type": "quantitative", "title": null, "scale": {"domain": [-22.9, 207.8], "nice": false, "zero": false}},
                  "y": {"field": "y", "type": "quantitative", "title": null, "scale": {"domain": [1150.7, 1347], "nice": false, "zero": false}}, "text": {"field": "t"}}}
  ]
},
{
  "bounds": "flush",
  "spacing": 47,
  "vconcat": [
  {
    "width": 692, "height": 314,
    "layer": [
      {"data": {"values": [{"x": "2015-08-30", "x2": "2018-08-02", "y": 1005.1, "y2": 1395.5}]},
       "mark": {"type": "rect", "fill": "white", "fillOpacity": 0, "stroke": "#666666", "strokeWidth": 1},
       "encoding": {
         "x": {"field": "x", "type": "temporal", "title": null,
               "scale": {"type": "utc", "domain": [{"year": 2015, "month": 9, "date": 3, "utc": true}, {"year": 2018, "month": 5, "date": 19, "utc": true}]},
               "axis": {"labelOverlap": false, "tickCount": 100, "values": [{"year": 2016, "month": 1, "date": 1, "utc": true}, {"year": 2016, "month": 5, "date": 1, "utc": true}, {"year": 2016, "month": 9, "date": 1, "utc": true}, {"year": 2017, "month": 1, "date": 1, "utc": true}, {"year": 2017, "month": 5, "date": 1, "utc": true}, {"year": 2017, "month": 9, "date": 1, "utc": true}, {"year": 2018, "month": 1, "date": 1, "utc": true}, {"year": 2018, "month": 5, "date": 1, "utc": true}],
                        "labelExpr": "utcFormat(datum.value, '%m') == '01' ? utcFormat(datum.value, '%Y') : utcFormat(datum.value, '%b')",
                        "labelFontWeight": {"condition": {"test": "utcFormat(datum.value, '%m') == '01'", "value": "bold"}, "value": "normal"}}},
         "x2": {"field": "x2"},
         "y": {"field": "y", "type": "quantitative", "title": null, "scale": {"domain": [1026.8, 1394.3], "nice": false, "zero": false},
               "axis": {"orient": "right", "tickCount": 100, "labelOverlap": false, "values": [1040,1080,1120,1160,1200,1240,1280,1320,1360], "format": ".2f"}},
         "y2": {"field": "y2"}}},
      {"data": {"name": "wk"}, "mark": {"type": "rule", "color": "#707070", "strokeWidth": 1},
       "encoding": {
         "x": {"field": "d", "type": "temporal", "title": null, "scale": {"type": "utc", "domain": [{"year": 2015, "month": 9, "date": 3, "utc": true}, {"year": 2018, "month": 5, "date": 19, "utc": true}]}},
         "y": {"field": "l", "type": "quantitative", "title": null, "scale": {"domain": [1026.8, 1394.3], "nice": false, "zero": false}},
         "y2": {"field": "h"}}},
      {"data": {"name": "wk"}, "mark": {"type": "bar", "width": 3, "strokeWidth": 0.4},
       "encoding": {
         "x": {"field": "d", "type": "temporal", "title": null, "scale": {"type": "utc", "domain": [{"year": 2015, "month": 9, "date": 3, "utc": true}, {"year": 2018, "month": 5, "date": 19, "utc": true}]}},
         "y": {"field": "o", "type": "quantitative", "title": null, "scale": {"domain": [1026.8, 1394.3], "nice": false, "zero": false}},
         "y2": {"field": "c"},
         "color": {"condition": {"test": "datum.c >= datum.o", "value": "#0000ff"}, "value": "#ff0000"},
         "stroke": {"condition": {"test": "datum.c >= datum.o", "value": "#0000ff"}, "value": "#ff0000"}}},
      {"data": {"values": [
          {"x": "2016-08-25", "x2": "2017-04-09", "y": 1315.5, "y2": 1343.5},
          {"x": "2015-07-01", "x2": "2017-04-09", "y": 1181.3, "y2": 1205.6},
          {"x": "2015-12-16", "x2": "2017-04-09", "y": 1071.3, "y2": 1097.2}]},
       "mark": {"type": "rect", "fill": "white", "fillOpacity": 0, "stroke": "#262626", "strokeWidth": 2.5, "clip": true},
       "encoding": {"x": {"field": "x", "type": "temporal", "title": null, "scale": {"type": "utc", "domain": [{"year": 2015, "month": 9, "date": 3, "utc": true}, {"year": 2018, "month": 5, "date": 19, "utc": true}]}}, "x2": {"field": "x2"},
                    "y": {"field": "y", "type": "quantitative", "title": null, "scale": {"domain": [1026.8, 1394.3], "nice": false, "zero": false}}, "y2": {"field": "y2"}}},
      {"data": {"values": [
          {"x": "2015-07-01", "x2": "2017-04-09", "y": 1361.7, "y2": 1361.7},
          {"x": "2015-09-03", "x2": "2017-03-18", "y": 1160, "y2": 1211.6},
          {"x": "2015-09-03", "x2": "2017-03-11", "y": 1085.5, "y2": 1221.1}]},
       "mark": {"type": "rule", "color": "#ff0000", "strokeWidth": 2, "clip": true},
       "encoding": {"x": {"field": "x", "type": "temporal", "title": null, "scale": {"type": "utc", "domain": [{"year": 2015, "month": 9, "date": 3, "utc": true}, {"year": 2018, "month": 5, "date": 19, "utc": true}]}}, "x2": {"field": "x2"},
                    "y": {"field": "y", "type": "quantitative", "title": null, "scale": {"domain": [1026.8, 1394.3], "nice": false, "zero": false}}, "y2": {"field": "y2"}}},
      {"data": {"values": [
          {"x": "2017-04-20", "x2": "2017-06-13", "y": 1368.2, "y2": 1355.3},
          {"x": "2017-04-20", "x2": "2017-08-09", "y": 1343.1, "y2": 1328.7},
          {"x": "2017-04-14", "x2": "2017-08-02", "y": 1202.7, "y2": 1189.1},
          {"x": "2017-04-14", "x2": "2017-08-02", "y": 1097.4, "y2": 1083.8}]},
       "mark": {"type": "rect", "fill": "#dfe8f0", "stroke": "#6d8599", "strokeWidth": 1},
       "encoding": {"x": {"field": "x", "type": "temporal", "title": null, "scale": {"type": "utc", "domain": [{"year": 2015, "month": 9, "date": 3, "utc": true}, {"year": 2018, "month": 5, "date": 19, "utc": true}]}}, "x2": {"field": "x2"},
                    "y": {"field": "y", "type": "quantitative", "title": null, "scale": {"domain": [1026.8, 1394.3], "nice": false, "zero": false}}, "y2": {"field": "y2"}}},
      {"data": {"values": [
          {"x": "2017-05-17", "y": 1361.8, "t": "1361.7"},
          {"x": "2017-06-14", "y": 1335.9, "t": "1343.5-1315.5"},
          {"x": "2017-06-08", "y": 1195.9, "t": "1205.6-1181.3"},
          {"x": "2017-06-08", "y": 1090.6, "t": "1071.3-1097.2"}]},
       "mark": {"type": "text", "font": "DejaVu Sans", "fontSize": 10, "color": "#111111", "align": "center", "baseline": "middle"},
       "encoding": {"x": {"field": "x", "type": "temporal", "title": null, "scale": {"type": "utc", "domain": [{"year": 2015, "month": 9, "date": 3, "utc": true}, {"year": 2018, "month": 5, "date": 19, "utc": true}]}},
                    "y": {"field": "y", "type": "quantitative", "title": null, "scale": {"domain": [1026.8, 1394.3], "nice": false, "zero": false}}, "text": {"field": "t"}}},
      {"data": {"values": [
          {"x": "2017-11-13", "x2": "2018-04-01", "y": 1387.3, "y2": 1333.4},
          {"x": "2017-11-20", "x2": "2018-02-25", "y": 1308.9, "y2": 1270.2},
          {"x": "2017-11-02", "x2": "2018-03-16", "y": 1212.9, "y2": 1160.2},
          {"x": "2017-10-15", "x2": "2018-02-04", "y": 1132.1, "y2": 1093.5}]},
       "mark": {"type": "rect", "fill": "white", "stroke": "#f2f200", "strokeWidth": 3, "cornerRadius": 8},
       "encoding": {"x": {"field": "x", "type": "temporal", "title": null, "scale": {"type": "utc", "domain": [{"year": 2015, "month": 9, "date": 3, "utc": true}, {"year": 2018, "month": 5, "date": 19, "utc": true}]}}, "x2": {"field": "x2"},
                    "y": {"field": "y", "type": "quantitative", "title": null, "scale": {"domain": [1026.8, 1394.3], "nice": false, "zero": false}}, "y2": {"field": "y2"}}},
      {"data": {"values": [
          {"g": "a", "k": 1, "x": "2017-11-21", "y": 1372.1}, {"g": "a", "k": 2, "x": "2017-07-14", "y": 1367.4}, {"g": "a", "k": 3, "x": "2017-11-21", "y": 1351.0},
          {"g": "b", "k": 1, "x": "2017-12-07", "y": 1304.2}, {"g": "b", "k": 2, "x": "2017-08-12", "y": 1336.1}, {"g": "b", "k": 3, "x": "2017-11-26", "y": 1290.1},
          {"g": "c", "k": 1, "x": "2017-11-05", "y": 1198.8}, {"g": "c", "k": 2, "x": "2017-08-05", "y": 1192.2}, {"g": "c", "k": 3, "x": "2017-11-05", "y": 1177.7},
          {"g": "d", "k": 1, "x": "2017-10-21", "y": 1113.4}, {"g": "d", "k": 2, "x": "2017-08-05", "y": 1083.8}, {"g": "d", "k": 3, "x": "2017-11-12", "y": 1099.4}]},
       "mark": {"type": "line", "fill": "white", "stroke": "#f2f200", "strokeWidth": 3, "strokeJoin": "miter"},
       "encoding": {"x": {"field": "x", "type": "temporal", "title": null, "scale": {"type": "utc", "domain": [{"year": 2015, "month": 9, "date": 3, "utc": true}, {"year": 2018, "month": 5, "date": 19, "utc": true}]}},
                    "y": {"field": "y", "type": "quantitative", "title": null, "scale": {"domain": [1026.8, 1394.3], "nice": false, "zero": false}}, "order": {"field": "k"}, "detail": {"field": "g"}}},
      {"data": {"values": [
          {"x": "2018-01-08", "y": 1290.5, "t": "Supply"},
          {"x": "2017-12-10", "y": 1113.8, "t": "Demand"}]},
       "mark": {"type": "text", "font": "DejaVu Sans", "fontSize": 12, "fontWeight": "bold", "color": "#111111", "align": "center", "baseline": "middle"},
       "encoding": {"x": {"field": "x", "type": "temporal", "title": null, "scale": {"type": "utc", "domain": [{"year": 2015, "month": 9, "date": 3, "utc": true}, {"year": 2018, "month": 5, "date": 19, "utc": true}]}},
                    "y": {"field": "y", "type": "quantitative", "title": null, "scale": {"domain": [1026.8, 1394.3], "nice": false, "zero": false}}, "text": {"field": "t"}}},
      {"data": {"values": [
          {"x": "2017-11-29", "y": 1367.0, "t": "Quasimodo"},
          {"x": "2017-11-29", "y": 1353.4, "t": "resistance"},
          {"x": "2017-11-18", "y": 1193.8, "t": "Resistance"},
          {"x": "2017-11-18", "y": 1179.8, "t": "area"}]},
       "mark": {"type": "text", "font": "DejaVu Sans", "fontSize": 12, "fontWeight": "bold", "color": "#111111", "align": "left", "baseline": "middle"},
       "encoding": {"x": {"field": "x", "type": "temporal", "title": null, "scale": {"type": "utc", "domain": [{"year": 2015, "month": 9, "date": 3, "utc": true}, {"year": 2018, "month": 5, "date": 19, "utc": true}]}},
                    "y": {"field": "y", "type": "quantitative", "title": null, "scale": {"domain": [1026.8, 1394.3], "nice": false, "zero": false}}, "text": {"field": "t"}}},
      {"data": {"values": [{"x": "2018-05-20", "x2": "2018-08-03", "y": 1167.3, "y2": 1184.9}]},
       "mark": {"type": "rect", "fill": "#ff0000"},
       "encoding": {"x": {"field": "x", "type": "temporal", "title": null, "scale": {"type": "utc", "domain": [{"year": 2015, "month": 9, "date": 3, "utc": true}, {"year": 2018, "month": 5, "date": 19, "utc": true}]}}, "x2": {"field": "x2"},
                    "y": {"field": "y", "type": "quantitative", "title": null, "scale": {"domain": [1026.8, 1394.3], "nice": false, "zero": false}}, "y2": {"field": "y2"}}},
      {"data": {"values": [{"x": "2018-06-26", "y": 1176.2, "t": "1176.38"}]},
       "mark": {"type": "text", "font": "Liberation Sans", "fontSize": 11.5, "fontWeight": "bold", "color": "white", "align": "center", "baseline": "middle"},
       "encoding": {"x": {"field": "x", "type": "temporal", "title": null, "scale": {"type": "utc", "domain": [{"year": 2015, "month": 9, "date": 3, "utc": true}, {"year": 2018, "month": 5, "date": 19, "utc": true}]}},
                    "y": {"field": "y", "type": "quantitative", "title": null, "scale": {"domain": [1026.8, 1394.3], "nice": false, "zero": false}}, "text": {"field": "t"}}},
      {"data": {"values": [{"x": "2015-09-17", "y": 1374.4, "t": "Gold/U.S. Dollar, W"}]},
       "mark": {"type": "text", "font": "Open Sans", "fontSize": 13, "fontWeight": "bold", "color": "#555555", "align": "left", "baseline": "middle"},
       "encoding": {"x": {"field": "x", "type": "temporal", "title": null, "scale": {"type": "utc", "domain": [{"year": 2015, "month": 9, "date": 3, "utc": true}, {"year": 2018, "month": 5, "date": 19, "utc": true}]}},
                    "y": {"field": "y", "type": "quantitative", "title": null, "scale": {"domain": [1026.8, 1394.3], "nice": false, "zero": false}}, "text": {"field": "t"}}}
    ]
  },
  {
    "width": 692, "height": 315,
    "layer": [
      {"data": {"values": [{"x": -12.9, "x2": 189.3, "y": 1381.6, "y2": 1399.7}]},
       "mark": {"type": "rect", "fill": "#f0f3f7"},
       "encoding": {"x": {"field": "x", "type": "quantitative", "title": null, "scale": {"domain": [-12.2, 175.3], "nice": false, "zero": false},
                          "axis": {"labelOverlap": false, "tickCount": 100, "values": [0, 23, 45, 66, 88, 110, 132, 152, 175],
                                   "labelExpr": "datum.value == 0 ? 'Aug' : datum.value == 23 ? 'Sep' : datum.value == 45 ? 'Oct' : datum.value == 66 ? 'Nov' : datum.value == 88 ? 'Dec' : datum.value == 110 ? '2017' : datum.value == 132 ? 'Feb' : datum.value == 152 ? '2' : 'A'",
                                   "labelFontWeight": {"condition": {"test": "datum.value == 110", "value": "bold"}, "value": "normal"}}},
                    "x2": {"field": "x2"},
                    "y": {"field": "y", "type": "quantitative", "title": null, "scale": {"domain": [1147.5, 1380.2], "nice": false, "zero": false},
                          "axis": {"orient": "right", "tickCount": 100, "labelOverlap": false, "values": [1150,1175,1200,1225,1250,1275,1300,1325,1350,1375], "format": ".2f"}},
                    "y2": {"field": "y2"}}},
      {"data": {"values": [{"x": -12.9, "x2": 189.3, "y": 1134.2, "y2": 1399.7}]},
       "mark": {"type": "rect", "fill": "white", "fillOpacity": 0, "stroke": "#666666", "strokeWidth": 1},
       "encoding": {"x": {"field": "x", "type": "quantitative", "title": null, "scale": {"domain": [-12.2, 175.3], "nice": false, "zero": false}}, "x2": {"field": "x2"},
                    "y": {"field": "y", "type": "quantitative", "title": null, "scale": {"domain": [1147.5, 1380.2], "nice": false, "zero": false}}, "y2": {"field": "y2"}}},
      {"data": {"name": "dy"}, "mark": {"type": "rule", "color": "#707070", "strokeWidth": 1},
       "encoding": {
         "x": {"field": "i", "type": "quantitative", "title": null, "scale": {"domain": [-12.2, 175.3], "nice": false, "zero": false}},
         "y": {"field": "l", "type": "quantitative", "title": null, "scale": {"domain": [1147.5, 1380.2], "nice": false, "zero": false}},
         "y2": {"field": "h"}}},
      {"data": {"name": "dy"}, "mark": {"type": "bar", "width": 2.6, "strokeWidth": 0.4},
       "encoding": {
         "x": {"field": "i", "type": "quantitative", "title": null, "scale": {"domain": [-12.2, 175.3], "nice": false, "zero": false}},
         "y": {"field": "o", "type": "quantitative", "title": null, "scale": {"domain": [1147.5, 1380.2], "nice": false, "zero": false}},
         "y2": {"field": "c"},
         "color": {"condition": {"test": "datum.c >= datum.o", "value": "#0000ff"}, "value": "#ff0000"},
         "stroke": {"condition": {"test": "datum.c >= datum.o", "value": "#0000ff"}, "value": "#ff0000"}}},
      {"data": {"values": [{"y": 1169.8}]}, "mark": {"type": "rule", "color": "#0000ff", "strokeWidth": 2.5},
       "encoding": {"y": {"field": "y", "type": "quantitative", "title": null, "scale": {"domain": [1147.5, 1380.2], "nice": false, "zero": false}}}},
      {"data": {"values": [
          {"x": -16, "x2": 114.1, "y": 1234.6, "y2": 1244.9},
          {"x": 75.6, "x2": 114.1, "y": 1212.0, "y2": 1220.9},
          {"x": 81.8, "x2": 114.1, "y": 1187.7, "y2": 1197.4}]},
       "mark": {"type": "rect", "fill": "white", "fillOpacity": 0.5, "stroke": "#262626", "strokeWidth": 2.5, "clip": true},
       "encoding": {"x": {"field": "x", "type": "quantitative", "title": null, "scale": {"domain": [-12.2, 175.3], "nice": false, "zero": false}}, "x2": {"field": "x2"},
                    "y": {"field": "y", "type": "quantitative", "title": null, "scale": {"domain": [1147.5, 1380.2], "nice": false, "zero": false}}, "y2": {"field": "y2"}}},
      {"data": {"values": [
          {"x": 116, "x2": 136.9, "y": 1242.1, "y2": 1233.1},
          {"x": 116, "x2": 136.9, "y": 1221.2, "y2": 1211.3},
          {"x": 116, "x2": 136.9, "y": 1195.3, "y2": 1185.4}]},
       "mark": {"type": "rect", "fill": "#dfe8f0", "stroke": "#6d8599", "strokeWidth": 1},
       "encoding": {"x": {"field": "x", "type": "quantitative", "title": null, "scale": {"domain": [-12.2, 175.3], "nice": false, "zero": false}}, "x2": {"field": "x2"},
                    "y": {"field": "y", "type": "quantitative", "title": null, "scale": {"domain": [1147.5, 1380.2], "nice": false, "zero": false}}, "y2": {"field": "y2"}}},
      {"data": {"values": [
          {"x": 126.45, "y": 1237.6, "t": "1234.6-1244.9"},
          {"x": 126.45, "y": 1216.2, "t": "1220.9-1212.0"},
          {"x": 126.45, "y": 1190.3, "t": "1197.4-1187.7"}]},
       "mark": {"type": "text", "font": "DejaVu Sans", "fontSize": 10, "color": "#111111", "align": "center", "baseline": "middle"},
       "encoding": {"x": {"field": "x", "type": "quantitative", "title": null, "scale": {"domain": [-12.2, 175.3], "nice": false, "zero": false}},
                    "y": {"field": "y", "type": "quantitative", "title": null, "scale": {"domain": [1147.5, 1380.2], "nice": false, "zero": false}}, "text": {"field": "t"}}},
      {"data": {"values": [
          {"x": -1.1, "x2": 24.7, "y": 1293.8, "y2": 1259.0},
          {"x": 50.4, "x2": 68.6, "y": 1205.1, "y2": 1180.8},
          {"x": 143.9, "x2": 162.3, "y": 1256.1, "y2": 1231.7}]},
       "mark": {"type": "rect", "fill": "white", "stroke": "#f2f200", "strokeWidth": 3, "cornerRadius": 8},
       "encoding": {"x": {"field": "x", "type": "quantitative", "title": null, "scale": {"domain": [-12.2, 175.3], "nice": false, "zero": false}}, "x2": {"field": "x2"},
                    "y": {"field": "y", "type": "quantitative", "title": null, "scale": {"domain": [1147.5, 1380.2], "nice": false, "zero": false}}, "y2": {"field": "y2"}}},
      {"data": {"values": [
          {"g": "a", "k": 1, "x": 20.5, "y": 1263.0}, {"g": "a", "k": 2, "x": 27.9, "y": 1235.4}, {"g": "a", "k": 3, "x": 23.5, "y": 1263.0},
          {"g": "b", "k": 1, "x": 67.2, "y": 1200.0}, {"g": "b", "k": 2, "x": 81.8, "y": 1193.3}, {"g": "b", "k": 3, "x": 67.2, "y": 1182.3},
          {"g": "c", "k": 1, "x": 145.3, "y": 1237.6}, {"g": "c", "k": 2, "x": 135.8, "y": 1218.4}, {"g": "c", "k": 3, "x": 148.5, "y": 1235.2}]},
       "mark": {"type": "line", "fill": "white", "stroke": "#f2f200", "strokeWidth": 3, "strokeJoin": "miter"},
       "encoding": {"x": {"field": "x", "type": "quantitative", "title": null, "scale": {"domain": [-12.2, 175.3], "nice": false, "zero": false}},
                    "y": {"field": "y", "type": "quantitative", "title": null, "scale": {"domain": [1147.5, 1380.2], "nice": false, "zero": false}}, "order": {"field": "k"}, "detail": {"field": "g"}}},
      {"data": {"values": [
          {"x": 59.5, "y": 1193.2, "t": "Supply"},
          {"x": 153.0, "y": 1244.2, "t": "Supply"},
          {"x": 128.4, "y": 1175.6, "t": "Support"}]},
       "mark": {"type": "text", "font": "DejaVu Sans", "fontSize": 12, "fontWeight": "bold", "color": "#111111", "align": "center", "baseline": "middle"},
       "encoding": {"x": {"field": "x", "type": "quantitative", "title": null, "scale": {"domain": [-12.2, 175.3], "nice": false, "zero": false}},
                    "y": {"field": "y", "type": "quantitative", "title": null, "scale": {"domain": [1147.5, 1380.2], "nice": false, "zero": false}}, "text": {"field": "t"}}},
      {"data": {"values": [
          {"x": 2.0, "y": 1281.0, "t": "Resistance"},
          {"x": 2.0, "y": 1272.7, "t": "area"}]},
       "mark": {"type": "text", "font": "DejaVu Sans", "fontSize": 12, "fontWeight": "bold", "color": "#111111", "align": "left", "baseline": "middle"},
       "encoding": {"x": {"field": "x", "type": "quantitative", "title": null, "scale": {"domain": [-12.2, 175.3], "nice": false, "zero": false}},
                    "y": {"field": "y", "type": "quantitative", "title": null, "scale": {"domain": [1147.5, 1380.2], "nice": false, "zero": false}}, "text": {"field": "t"}}},
      {"data": {"values": [{"x": 175.3, "x2": 189.4, "y": 1170.2, "y2": 1181.7}]},
       "mark": {"type": "rect", "fill": "#ff0000"},
       "encoding": {"x": {"field": "x", "type": "quantitative", "title": null, "scale": {"domain": [-12.2, 175.3], "nice": false, "zero": false}}, "x2": {"field": "x2"},
                    "y": {"field": "y", "type": "quantitative", "title": null, "scale": {"domain": [1147.5, 1380.2], "nice": false, "zero": false}}, "y2": {"field": "y2"}}},
      {"data": {"values": [{"x": 175.3, "x2": 189.4, "y": 1157.9, "y2": 1169.7}]},
       "mark": {"type": "rect", "fill": "#0000ff"},
       "encoding": {"x": {"field": "x", "type": "quantitative", "title": null, "scale": {"domain": [-12.2, 175.3], "nice": false, "zero": false}}, "x2": {"field": "x2"},
                    "y": {"field": "y", "type": "quantitative", "title": null, "scale": {"domain": [1147.5, 1380.2], "nice": false, "zero": false}}, "y2": {"field": "y2"}}},
      {"data": {"values": [
          {"x": 182.4, "y": 1175.9, "t": "1176.38"},
          {"x": 182.4, "y": 1163.7, "t": "1169.80"}]},
       "mark": {"type": "text", "font": "Liberation Sans", "fontSize": 11.5, "fontWeight": "bold", "color": "white", "align": "center", "baseline": "middle"},
       "encoding": {"x": {"field": "x", "type": "quantitative", "title": null, "scale": {"domain": [-12.2, 175.3], "nice": false, "zero": false}},
                    "y": {"field": "y", "type": "quantitative", "title": null, "scale": {"domain": [1147.5, 1380.2], "nice": false, "zero": false}}, "text": {"field": "t"}}},
      {"data": {"values": [{"x": -9.5, "y": 1367.1, "t": "Gold/U.S. Dollar, D"}]},
       "mark": {"type": "text", "font": "Open Sans", "fontSize": 13, "fontWeight": "bold", "color": "#555555", "align": "left", "baseline": "middle"},
       "encoding": {"x": {"field": "x", "type": "quantitative", "title": null, "scale": {"domain": [-12.2, 175.3], "nice": false, "zero": false}},
                    "y": {"field": "y", "type": "quantitative", "title": null, "scale": {"domain": [1147.5, 1380.2], "nice": false, "zero": false}}, "text": {"field": "t"}}},
      {"data": {"values": [
          {"x": -11.9, "y": 1390.1, "t": "FX:XAUUSD, D"},
          {"x": 54.5, "y": 1390.1, "t": "O:"},
          {"x": 71.6, "y": 1390.1, "t": "H:"},
          {"x": 90.2, "y": 1390.1, "t": "L:"},
          {"x": 106.8, "y": 1390.1, "t": "C:"}]},
       "mark": {"type": "text", "font": "Open Sans", "fontSize": 12, "fontWeight": "bold", "color": "#1e1e1e", "align": "left", "baseline": "middle"},
       "encoding": {"x": {"field": "x", "type": "quantitative", "title": null, "scale": {"domain": [-12.2, 175.3], "nice": false, "zero": false}},
                    "y": {"field": "y", "type": "quantitative", "title": null, "scale": {"domain": [1147.5, 1380.2], "nice": false, "zero": false}}, "text": {"field": "t"}}},
      {"data": {"values": [
          {"x": 12.2, "y": 1390.1, "t": "1176.38"},
          {"x": 29.3, "y": 1390.1, "t": "−0.46 (−0.04%)"}]},
       "mark": {"type": "text", "font": "Open Sans", "fontSize": 12, "color": "#1e1e1e", "align": "left", "baseline": "middle"},
       "encoding": {"x": {"field": "x", "type": "quantitative", "title": null, "scale": {"domain": [-12.2, 175.3], "nice": false, "zero": false}},
                    "y": {"field": "y", "type": "quantitative", "title": null, "scale": {"domain": [1147.5, 1380.2], "nice": false, "zero": false}}, "text": {"field": "t"}}},
      {"data": {"values": [
          {"x": 25.9, "y": 1390.1, "t": "▼"},
          {"x": 58.3, "y": 1390.1, "t": "1176.84"},
          {"x": 75.3, "y": 1390.1, "t": "1187.82"},
          {"x": 92.8, "y": 1390.1, "t": "1171.49"},
          {"x": 110.0, "y": 1390.1, "t": "1176.38"}]},
       "mark": {"type": "text", "font": "Open Sans", "fontSize": 12, "color": "#b0191e", "align": "left", "baseline": "middle"},
       "encoding": {"x": {"field": "x", "type": "quantitative", "title": null, "scale": {"domain": [-12.2, 175.3], "nice": false, "zero": false}},
                    "y": {"field": "y", "type": "quantitative", "title": null, "scale": {"domain": [1147.5, 1380.2], "nice": false, "zero": false}}, "text": {"field": "t"}}}
    ]
  }
  ]
}
]
}
